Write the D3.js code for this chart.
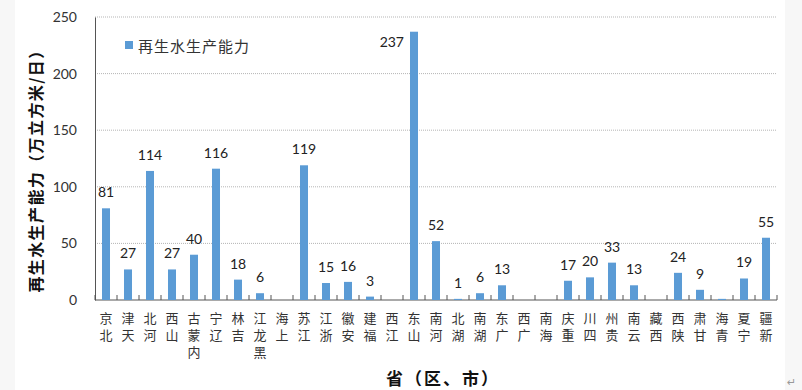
<!DOCTYPE html>
<html>
<head>
<meta charset="utf-8">
<script src="https://cdn.jsdelivr.net/npm/d3@7"></script>
<style>
  body { margin: 0; background: #f7f7f7; }
  svg { display: block; }
</style>
</head>
<body>
<div id="chart"></div>
<script>
// provinces along the x axis
var provinces = ["北京", "天津", "河北", "山西", "内蒙古", "辽宁", "吉林", "黑龙江", "上海", "江苏",
    "浙江", "安徽", "福建", "江西", "山东", "河南", "湖北", "湖南", "广东", "广西",
    "海南", "重庆", "四川", "贵州", "云南", "西藏", "陕西", "甘肃", "青海", "宁夏", "新疆"];
// reclaimed water capacity, 10^4 m3/day (null = no bar)
var capacity = [81, 27, 114, 27, 40, 116, 18, 6, null, 119,
    15, 16, 3, null, 237, 52, 1, 6, 13, null,
    null, 17, 20, 33, 13, null, 24, 9, 1, 19, 55];
// bars drawn without a value label
var unlabeled = ["青海"];
var yTicks = [0, 50, 100, 150, 200, 250];

var width = 802, height = 390;
var margin = { top: 17, right: 25, bottom: 90, left: 95 };
var barColor = "#5b9bd5";

var svg = d3.select("#chart").append("svg")
    .attr("width", width)
    .attr("height", height);

// white chart area
svg.append("rect")
    .attr("x", 15).attr("y", 0)
    .attr("width", 770).attr("height", height)
    .attr("fill", "#fff");

var x = d3.scaleBand()
    .domain(provinces)
    .range([margin.left, width - margin.right])
    .paddingInner(0.636)
    .paddingOuter(0.318);

var y = d3.scaleLinear()
    .domain([0, 250])
    .range([height - margin.bottom, margin.top]);

var data = provinces.map(function (p, i) { return { name: p, value: capacity[i] }; });

// gridlines
svg.append("g")
    .selectAll("line")
    .data(yTicks.filter(function (d) { return d > 0; }))
    .enter()
    .append("line")
    .attr("x1", margin.left)
    .attr("x2", width - margin.right)
    .attr("y1", function (d) { return y(d); })
    .attr("y2", function (d) { return y(d); })
    .attr("stroke", "#b5b5b5")
    .attr("stroke-dasharray", "1,1");

// y axis
var yAxis = svg.append("g")
    .attr("transform", "translate(" + margin.left + ",0)")
    .call(d3.axisLeft(y).tickValues(yTicks).tickSize(0).tickPadding(18));
yAxis.select(".domain").attr("stroke", "#555");
yAxis.selectAll("text")
    .style("font-family", "Lato, 'Liberation Sans', sans-serif")
    .style("font-size", "14px")
    .attr("fill", "#333");

// x axis line and inward ticks at category boundaries
var step = x.step();
var x0 = x.range()[0];
svg.append("line")
    .attr("x1", x0).attr("x2", x.range()[1])
    .attr("y1", y(0)).attr("y2", y(0))
    .attr("stroke", "#555");
svg.append("g")
    .selectAll("line")
    .data(d3.range(provinces.length + 1))
    .enter()
    .append("line")
    .attr("x1", function (i) { return x0 + i * step; })
    .attr("x2", function (i) { return x0 + i * step; })
    .attr("y1", y(0))
    .attr("y2", y(0) - 5)
    .attr("stroke", "#555");

// bars
svg.append("g")
    .selectAll("rect")
    .data(data.filter(function (d) { return d.value != null; }))
    .enter()
    .append("rect")
    .attr("x", function (d) { return x(d.name); })
    .attr("y", function (d) { return y(d.value); })
    .attr("width", x.bandwidth())
    .attr("height", function (d) { return y(0) - y(d.value); })
    .attr("fill", barColor);

// value labels (the tallest one sits to the left of its bar)
svg.append("g")
    .selectAll("text")
    .data(data.filter(function (d) { return d.value != null && unlabeled.indexOf(d.name) < 0; }))
    .enter()
    .append("text")
    .attr("x", function (d) {
        var cx = x(d.name) + x.bandwidth() / 2;
        return d.value > 230 ? cx - 10 : cx;
    })
    .attr("y", function (d) {
        return d.value > 230 ? y(d.value) + 15 : y(d.value) - 11;
    })
    .attr("text-anchor", function (d) { return d.value > 230 ? "end" : "middle"; })
    .style("font-family", "Lato, 'Liberation Sans', sans-serif")
    .style("font-size", "14px")
    .attr("fill", "#222")
    .text(function (d) { return d.value; });

// category labels: upright characters, read bottom to top
svg.append("g")
    .selectAll("text")
    .data(provinces)
    .enter()
    .append("text")
    .attr("x", function (d) { return x(d) + x.bandwidth() / 2; })
    .attr("y", 312)
    .style("writing-mode", "vertical-rl")
    .style("text-orientation", "upright")
    .style("font-family", "'Noto Sans CJK SC', sans-serif")
    .style("font-size", "13px")
    .style("letter-spacing", "4px")
    .attr("fill", "#333")
    .text(function (d) { return d.split("").reverse().join(""); });

// axis titles
svg.append("text")
    .attr("transform", "translate(35," + 167 + ") rotate(-90)")
    .attr("text-anchor", "middle")
    .attr("dominant-baseline", "central")
    .style("font-family", "'Noto Sans CJK SC', sans-serif")
    .style("font-size", "16px")
    .style("font-weight", "bold")
    .style("letter-spacing", "1.4px")
    .attr("fill", "#111")
    .text("再生水生产能力（万立方米/日）");

svg.append("text")
    .attr("x", 443)
    .attr("y", 377)
    .attr("text-anchor", "middle")
    .attr("dominant-baseline", "central")
    .style("font-family", "'Noto Sans CJK SC', sans-serif")
    .style("font-size", "17px")
    .style("font-weight", "bold")
    .style("letter-spacing", "2px")
    .attr("fill", "#111")
    .text("省（区、市）");

// legend
svg.append("rect")
    .attr("x", 125).attr("y", 41)
    .attr("width", 8).attr("height", 8)
    .attr("fill", barColor);
svg.append("text")
    .attr("x", 138)
    .attr("y", 45)
    .attr("dominant-baseline", "central")
    .style("font-family", "'Noto Sans CJK SC', sans-serif")
    .style("font-size", "15px")
    .style("letter-spacing", "1px")
    .attr("fill", "#333")
    .text("再生水生产能力");

// paragraph mark from the source document
svg.append("text")
    .attr("x", 787)
    .attr("y", 386)
    .style("font-family", "'DejaVu Sans', sans-serif")
    .style("font-size", "11px")
    .attr("fill", "#999")
    .text("↵");
</script>
</body>
</html>
